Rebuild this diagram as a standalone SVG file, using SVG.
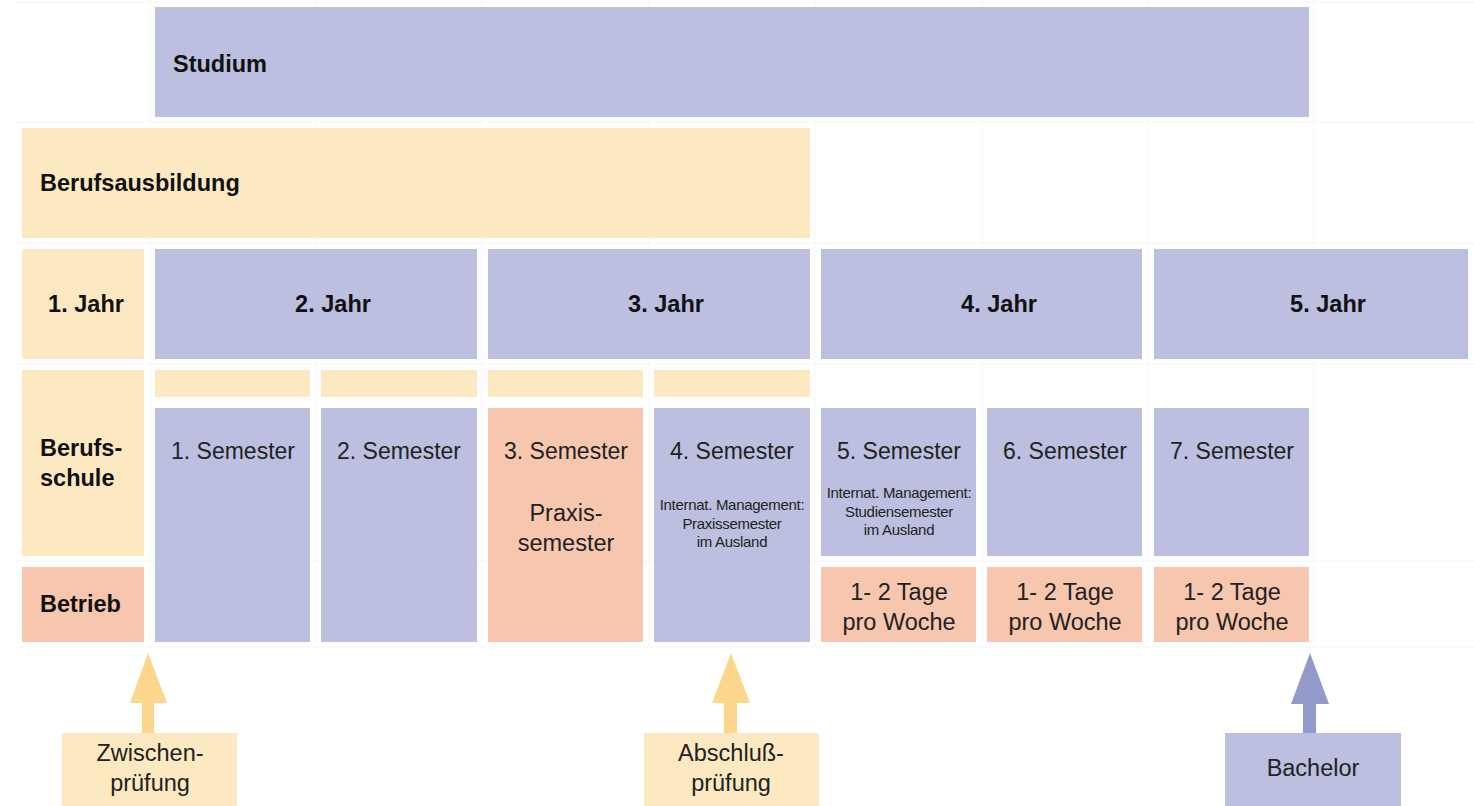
<svg xmlns="http://www.w3.org/2000/svg" width="1474" height="806" viewBox="0 0 1474 806">
<style>
.p{fill:#bcbfdf}.y{fill:#fde9c1}.s{fill:#f7c6ae}
.b{font-family:"Liberation Sans",Arial,sans-serif;font-weight:bold;font-size:23.5px;fill:#111}
.r{font-family:"Liberation Sans",Arial,sans-serif;font-size:23px;fill:#222}
.r2{font-family:"Liberation Sans",Arial,sans-serif;font-size:23.5px;fill:#222}
.sm{font-family:"Liberation Sans",Arial,sans-serif;font-size:15px;fill:#222;letter-spacing:-0.3px}
.c{text-anchor:middle}
.g{stroke:#f5f5fa;stroke-width:1;fill:none}
</style>
<rect width="1474" height="806" fill="#fff"/>
<g id="grid" class="g">
<path d="M150 0V650M316 0V650M482 0V650M649 0V650M815 0V650M982 0V650M1148 0V650M1314 0V650"/>
<path d="M16 2H1474M16 122H1474M16 243H1474M16 364H1474M16 561H1474M16 647H1474"/>
</g>
<g id="studium"><rect class="p" x="155" y="7" width="1154" height="110"/><text class="b" x="173" y="72">Studium</text></g>
<g id="berufsausbildung"><rect class="y" x="22" y="128" width="788" height="110"/><text class="b" x="40" y="191">Berufsausbildung</text></g>
<g id="jahr1"><rect class="y" x="22" y="249" width="122" height="110"/><text class="b c" x="86" y="312">1. Jahr</text></g>
<g id="jahr2"><rect class="p" x="155" y="249" width="322" height="110"/><text class="b c" x="333" y="312">2. Jahr</text></g>
<g id="jahr3"><rect class="p" x="488" y="249" width="322" height="110"/><text class="b c" x="666" y="312">3. Jahr</text></g>
<g id="jahr4"><rect class="p" x="821" y="249" width="321" height="110"/><text class="b c" x="999" y="312">4. Jahr</text></g>
<g id="jahr5"><rect class="p" x="1154" y="249" width="314" height="110"/><text class="b c" x="1328" y="312">5. Jahr</text></g>
<g id="berufsschule"><rect class="y" x="22" y="370" width="122" height="186"/><text class="b" x="40" y="456">Berufs-</text><text class="b" x="40" y="486">schule</text></g>
<g id="betrieb"><rect class="s" x="22" y="567" width="122" height="75"/><text class="b" x="40" y="612">Betrieb</text></g>
<g id="bars">
<rect class="y" x="155" y="370" width="155" height="27"/>
<rect class="y" x="321" y="370" width="156" height="27"/>
<rect class="y" x="488" y="370" width="155" height="27"/>
<rect class="y" x="654" y="370" width="156" height="27"/>
</g>
<g id="sem1"><rect class="p" x="155" y="408" width="155" height="234"/><text class="r c" x="233" y="459">1. Semester</text></g>
<g id="sem2"><rect class="p" x="321" y="408" width="156" height="234"/><text class="r c" x="399" y="459">2. Semester</text></g>
<g id="sem3"><rect class="s" x="488" y="408" width="155" height="234"/><text class="r c" x="566" y="459">3. Semester</text><text class="r2 c" x="566" y="521">Praxis-</text><text class="r2 c" x="566" y="551">semester</text></g>
<g id="sem4"><rect class="p" x="654" y="408" width="156" height="234"/><text class="r c" x="732" y="459">4. Semester</text><text class="sm c" x="732" y="510">Internat. Management:</text><text class="sm c" x="732" y="529">Praxissemester</text><text class="sm c" x="732" y="547">im Ausland</text></g>
<g id="sem5"><rect class="p" x="821" y="408" width="155" height="148"/><text class="r c" x="899" y="459">5. Semester</text><text class="sm c" x="899" y="498">Internat. Management:</text><text class="sm c" x="899" y="517">Studiensemester</text><text class="sm c" x="899" y="535">im Ausland</text></g>
<g id="sem6"><rect class="p" x="987" y="408" width="155" height="148"/><text class="r c" x="1065" y="459">6. Semester</text></g>
<g id="sem7"><rect class="p" x="1154" y="408" width="155" height="148"/><text class="r c" x="1232" y="459">7. Semester</text></g>
<g id="tage5"><rect class="s" x="821" y="567" width="155" height="75"/><text class="r2 c" x="899" y="600">1- 2 Tage</text><text class="r2 c" x="899" y="630">pro Woche</text></g>
<g id="tage6"><rect class="s" x="987" y="567" width="155" height="75"/><text class="r2 c" x="1065" y="600">1- 2 Tage</text><text class="r2 c" x="1065" y="630">pro Woche</text></g>
<g id="tage7"><rect class="s" x="1154" y="567" width="155" height="75"/><text class="r2 c" x="1232" y="600">1- 2 Tage</text><text class="r2 c" x="1232" y="630">pro Woche</text></g>
<g id="connectors">
<path fill="#fdd68e" d="M148 653L167 703H154V733H142V703H130Z"/>
<path fill="#fdd68e" d="M731 653L750 703H737V733H724V703H712Z"/>
<path fill="#9399c8" d="M1310 653L1329 704H1316V733H1303V704H1291Z"/>
</g>
<g id="zwischen"><rect class="y" x="62" y="733" width="175" height="73"/><text class="r2 c" x="150" y="761">Zwischen-</text><text class="r2 c" x="150" y="791">prüfung</text></g>
<g id="abschluss"><rect class="y" x="644" y="733" width="175" height="73"/><text class="r2 c" x="731" y="761">Abschluß-</text><text class="r2 c" x="731" y="791">prüfung</text></g>
<g id="bachelor"><rect class="p" x="1225" y="733" width="176" height="73"/><text class="r2 c" x="1313" y="776">Bachelor</text></g>
</svg>
